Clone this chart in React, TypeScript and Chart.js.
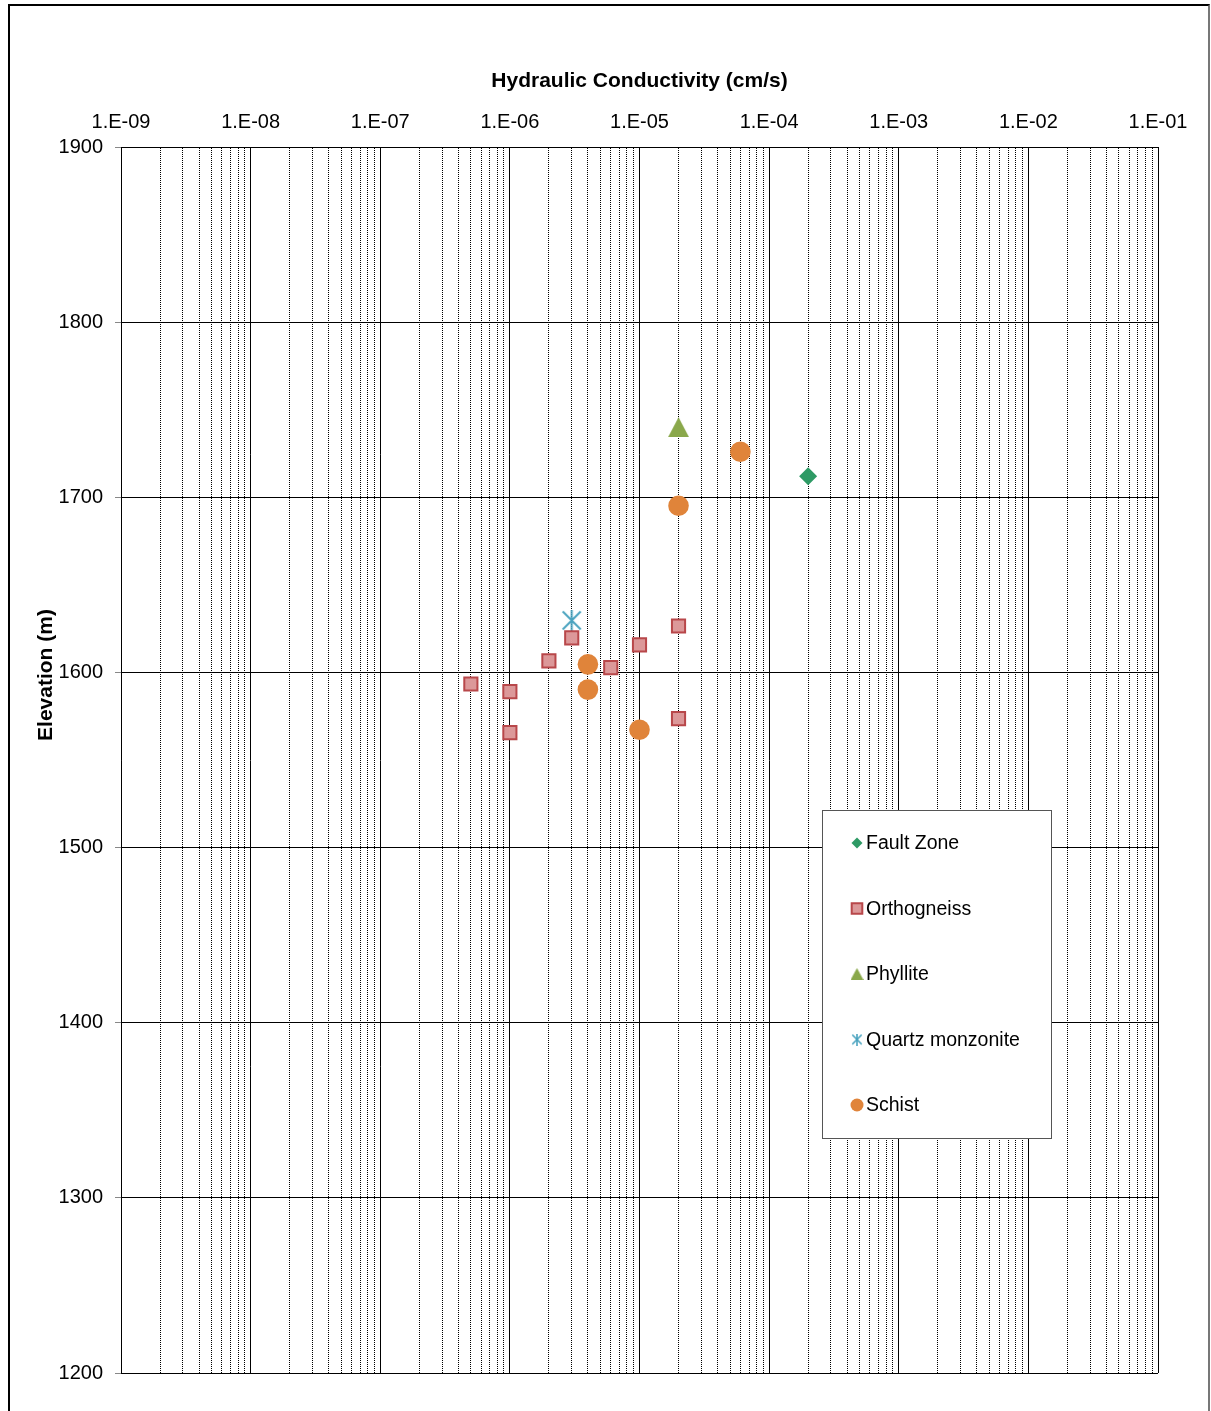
import React, { useEffect, useRef } from 'react';
import { Chart, registerables } from 'chart.js';
import { drawPoint } from 'chart.js/helpers';

Chart.register(...registerables);

// ---- axis values ----
const decadeTicks = [1e-9, 1e-8, 1e-7, 1e-6, 1e-5, 1e-4, 1e-3, 1e-2, 1e-1];
const decadeLabels = ['1.E-09', '1.E-08', '1.E-07', '1.E-06', '1.E-05', '1.E-04', '1.E-03', '1.E-02', '1.E-01'];
const minorMultipliers = [2, 3, 4, 5, 6, 7, 8, 9];
const elevationMin = 1200;
const elevationMax = 1900;
const elevationStep = 100;

const xTitle = 'Hydraulic Conductivity (cm/s)';
const yTitle = 'Elevation (m)';

// ---- series ----
const seriesNames = ['Fault Zone', 'Orthogneiss', 'Phyllite', 'Quartz monzonite', 'Schist'];

const faultZoneK = [2e-4];
const faultZoneElev = [1712];

const orthogneissK = [5e-7, 1e-6, 1e-6, 2e-6, 3e-6, 6e-6, 1e-5, 2e-5, 2e-5];
const orthogneissElev = [1593.4, 1589, 1565.6, 1606.6, 1619.7, 1602.7, 1615.7, 1626.5, 1573.6];

const phylliteK = [2e-5];
const phylliteElev = [1740];

const quartzMonzoniteK = [3e-6];
const quartzMonzoniteElev = [1629.7];

const schistK = [6e-5, 2e-5, 4e-6, 4e-6, 1e-5];
const schistElev = [1726, 1695.2, 1604.6, 1590.2, 1567.3];

const FONT = '"Liberation Sans", Arial, Helvetica, sans-serif';

const toPoints = (xs: number[], ys: number[]) => xs.map((x, i) => ({ x, y: ys[i] }));

function makeAsterisk(size: number, color: string, lw: number): HTMLCanvasElement {
  const c = document.createElement('canvas');
  c.width = size;
  c.height = size;
  const g = c.getContext('2d')!;
  g.strokeStyle = color;
  g.lineWidth = lw;
  g.lineCap = 'butt';
  const m = lw / 2 + 0.5;
  g.beginPath();
  g.moveTo(m, m);
  g.lineTo(size - m, size - m);
  g.moveTo(size - m, m);
  g.lineTo(m, size - m);
  g.moveTo(size / 2, 0);
  g.lineTo(size / 2, size);
  g.stroke();
  return c;
}

function makeTriangle(w: number, h: number, color: string): HTMLCanvasElement {
  const c = document.createElement('canvas');
  c.width = w;
  c.height = h;
  const g = c.getContext('2d')!;
  g.fillStyle = color;
  g.beginPath();
  g.moveTo(w / 2, 0);
  g.lineTo(w, h);
  g.lineTo(0, h);
  g.closePath();
  g.fill();
  return c;
}

export default function App() {
  const ref = useRef<HTMLCanvasElement | null>(null);

  useEffect(() => {
    if (!ref.current) return;
    const quartzColor = '#4aa3bf';
    const phylliteColor = '#8aa84b';
    const quartzBig = makeAsterisk(21, quartzColor, 2);
    const quartzSmall = makeAsterisk(12, quartzColor, 1.6);
    const triBig = makeTriangle(21, 20, phylliteColor);
    const triSmall = makeTriangle(13, 12, phylliteColor);

    const xTickList: { value: number; major: boolean }[] = [];
    decadeTicks.forEach((d, i) => {
      xTickList.push({ value: d, major: true });
      if (i < decadeTicks.length - 1) {
        minorMultipliers.forEach((m) => {
          xTickList.push({ value: Number((m * d).toPrecision(12)), major: false });
        });
      }
    });

    const legendStyles: any[] = ['rectRot', 'rect', triSmall, quartzSmall, 'circle'];
    const legendRadii = [5.5, 7.5, 7, 6, 6.5];

    const decorPlugin = {
      id: 'decor',
      afterDraw(chart: any) {
        const ctx = chart.ctx as CanvasRenderingContext2D;
        ctx.save();
        // y-axis title
        ctx.save();
        ctx.translate(46, 675);
        ctx.rotate(-Math.PI / 2);
        ctx.fillStyle = '#000';
        ctx.font = `bold 21px ${FONT}`;
        ctx.textAlign = 'center';
        ctx.textBaseline = 'middle';
        ctx.fillText(yTitle, 0, 0);
        ctx.restore();
        // legend box
        ctx.fillStyle = '#fff';
        ctx.fillRect(822, 810, 229, 328);
        ctx.strokeStyle = '#555';
        ctx.lineWidth = 1;
        ctx.strokeRect(822.5, 810.5, 229, 328);
        chart.data.datasets.forEach((ds: any, i: number) => {
          const y = 843 + i * 65.5;
          ctx.fillStyle = ds.pointBackgroundColor;
          ctx.strokeStyle = ds.pointBorderColor;
          ctx.lineWidth = ds.pointBorderWidth || 0;
          drawPoint(ctx, { pointStyle: legendStyles[i], radius: legendRadii[i], rotation: 0, borderWidth: ds.pointBorderWidth || 0 } as any, 857, y);
          ctx.fillStyle = '#000';
          ctx.font = `19.5px ${FONT}`;
          ctx.textBaseline = 'middle';
          ctx.textAlign = 'left';
          ctx.fillText(ds.label, 866, y + 1);
        });
        ctx.restore();
      },
    };

    const chart = new Chart(ref.current, {
      type: 'scatter',
      data: {
        datasets: [
          {
            label: seriesNames[0],
            data: toPoints(faultZoneK, faultZoneElev),
            pointStyle: 'rectRot',
            pointRadius: 9,
            pointBackgroundColor: '#2e9a65',
            pointBorderColor: '#2e9a65',
            pointBorderWidth: 0,
            backgroundColor: '#2e9a65',
            borderColor: '#2e9a65',
          },
          {
            label: seriesNames[1],
            data: toPoints(orthogneissK, orthogneissElev),
            pointStyle: 'rect',
            pointRadius: 9.3,
            pointBackgroundColor: '#dc9899',
            pointBorderColor: '#b8474a',
            pointBorderWidth: 2,
            backgroundColor: '#dc9899',
            borderColor: '#b8474a',
          },
          {
            label: seriesNames[2],
            data: toPoints(phylliteK, phylliteElev),
            pointStyle: triBig as any,
            pointRadius: 11,
            pointBackgroundColor: phylliteColor,
            pointBorderColor: phylliteColor,
            pointBorderWidth: 0,
            backgroundColor: phylliteColor,
            borderColor: phylliteColor,
          },
          {
            label: seriesNames[3],
            data: toPoints(quartzMonzoniteK, quartzMonzoniteElev),
            pointStyle: quartzBig as any,
            pointRadius: 10,
            pointBackgroundColor: quartzColor,
            pointBorderColor: quartzColor,
            pointBorderWidth: 0,
            backgroundColor: quartzColor,
            borderColor: quartzColor,
          },
          {
            label: seriesNames[4],
            data: toPoints(schistK, schistElev),
            pointStyle: 'circle',
            pointRadius: 10.3,
            pointBackgroundColor: '#e0843a',
            pointBorderColor: '#e0843a',
            pointBorderWidth: 0,
            backgroundColor: '#e0843a',
            borderColor: '#e0843a',
          },
        ] as any,
      },
      options: {
        responsive: false,
        animation: false,
        events: [],
        layout: { padding: { left: 30, top: 50, right: 53, bottom: 38 } },
        plugins: {
          legend: { display: false },
          tooltip: { enabled: false },
        },
        scales: {
          x: {
            type: 'logarithmic',
            position: 'top',
            min: decadeTicks[0],
            max: decadeTicks[decadeTicks.length - 1],
            afterBuildTicks: (scale: any) => {
              scale.ticks = xTickList.map((t) => ({ ...t }));
            },
            afterFit: (scale: any) => {
              scale.height = 97;
            },
            ticks: {
              autoSkip: false,
              maxRotation: 0,
              minRotation: 0,
              padding: 13,
              color: '#000',
              font: { size: 20, family: FONT },
              callback: (value: any, index: number, ticks: any[]) => {
                if (!ticks[index] || !ticks[index].major) return '';
                const k = Math.round(Math.log10(Number(value))) + 9;
                return decadeLabels[k] ?? '';
              },
            },
            grid: { color: '#000', lineWidth: 1, drawTicks: false },
            border: {
              color: '#000',
              width: 1,
              dash: (ctx: any) => (ctx.tick && !ctx.tick.major ? [1, 1] : []),
            },
            title: {
              display: true,
              text: xTitle,
              color: '#000',
              font: { size: 21, weight: 'bold', family: FONT },
              padding: { top: 19, bottom: 0 },
            },
          } as any,
          y: {
            type: 'linear',
            min: elevationMin,
            max: elevationMax,
            afterFit: (scale: any) => {
              scale.width = 91;
            },
            ticks: {
              stepSize: elevationStep,
              padding: 12,
              color: '#000',
              font: { size: 20, family: FONT },
              callback: (value: any) => String(value),
            },
            grid: { color: '#000', lineWidth: 1, tickColor: '#888', tickLength: 6 },
            border: { color: '#000', width: 1 },
            title: { display: false },
          } as any,
        },
      },
      plugins: [decorPlugin],
    });

    return () => chart.destroy();
  }, []);

  return (
    <div style={{ position: 'absolute', left: 0, top: 0, width: 1211, height: 1411, background: '#fff' }}>
      <div
        style={{
          position: 'absolute',
          left: 8,
          top: 4,
          width: 1198,
          height: 1405,
          borderLeft: '2px solid #000',
          borderTop: '2px solid #000',
          borderRight: '2px solid #777',
          boxSizing: 'content-box',
        }}
      />
      <canvas
        ref={ref}
        width={1211}
        height={1411}
        style={{ position: 'absolute', left: 0, top: 0, display: 'block' }}
      />
    </div>
  );
}
